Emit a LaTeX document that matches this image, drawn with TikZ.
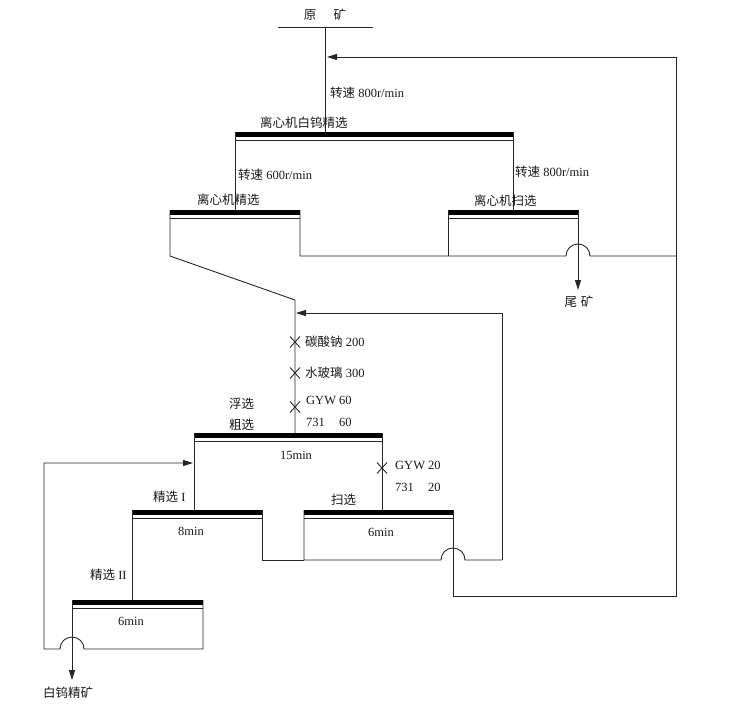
\documentclass[tikz,border=0pt]{standalone}
\usepackage{fontspec}
\setmainfont{Liberation Serif}
\newfontfamily\cjk{Noto Sans CJK SC}
\usetikzlibrary{arrows.meta}
\begin{document}
\begin{tikzpicture}[x=1pt,y=-1pt,
  ln/.style={line width=0.9pt,draw=black!85},
  arr/.style={ln,-{Triangle[length=10pt,width=6pt]}},
  lbl/.style={inner sep=0pt,font=\fontsize{12.5}{14}\selectfont,anchor=west,text=black!90},
  clbl/.style={lbl,anchor=center}]
\useasboundingbox (0,0) rectangle (741,704);
\newcommand{\cellbar}[3]{%
  \fill[black] (#1,#3) rectangle (#2,#3+4.6);
  \draw[ln] (#1,#3+8.6) -- (#2,#3+8.6);}
\newcommand{\xmark}[2]{%
  \draw[ln] (#1-5,#2-5.5) -- (#1+5,#2+5.5) (#1-5,#2+5.5) -- (#1+5,#2-5.5);}
% coordinates
\coordinate (feedL) at (278,27);
\coordinate (feedR) at (373,27);
\coordinate (feedM) at (325,27);
\coordinate (retIn) at (327,57);
\coordinate (flIn) at (296,313);
\coordinate (clIn) at (193,463);
\coordinate (tail) at (578,290);
\coordinate (conc) at (72,680);
% feed
\draw[ln] (feedL) -- (feedR);
\draw[ln] (feedM) -- (325,132);
\node[clbl] (t0) at (325,15) {\cjk 原\hspace{1.4em}矿};
\node[lbl] (t1) at (330,93) {{\cjk 转速} 800r/min};
% centrifuge cleaner (top)
\cellbar{235}{513}{132}
\node[lbl] (t2) at (260,123) {\cjk 离心机白钨精选};
\draw[ln] (235,132) -- (235,210);
\draw[ln] (513,132) -- (513,210);
\node[lbl] (t3) at (238,175) {{\cjk 转速} 600r/min};
\node[lbl] (t4) at (515,172) {{\cjk 转速} 800r/min};
% centrifuge cleaning
\cellbar{170}{300}{210}
\node[lbl] (t5) at (197,200) {\cjk 离心机精选};
\draw[ln] (170,210) -- (170,256) -- (295,300) -- (295,433);
\draw[ln] (300,210) -- (300,256) -- (566,256) arc (180:360:12) -- (676,256);
% centrifuge scavenging
\cellbar{448}{578}{210}
\node[lbl] (t6) at (474,201) {\cjk 离心机扫选};
\draw[ln] (448,210) -- (448,256);
\draw[arr] (578,210) -- (tail);
\node[clbl] (t7) at (579,302) {\cjk 尾\hspace{0.3em}矿};
% return to feed
\draw[arr] (453,510) -- (453,596) -- (676,596) -- (676,57) -- (retIn);
% reagents
\xmark{295}{342}
\xmark{295}{373}
\xmark{295}{407}
\node[lbl] (t8) at (305,342) {{\cjk 碳酸钠} 200};
\node[lbl] (t9) at (305,373) {{\cjk 水玻璃} 300};
\node[lbl] (t10) at (306,400) {\makebox[33pt][l]{GYW}60};
\node[lbl] (t11) at (306,422) {\makebox[33pt][l]{731}60};
\node[lbl] (t12) at (229,404) {\cjk 浮选};
\node[lbl] (t13) at (229,425) {\cjk 粗选};
% flotation return
\draw[arr] (502,560) -- (502,313) -- (flIn);
% rougher
\cellbar{194}{382}{433}
\node[clbl] (t14) at (296,455) {15min};
\draw[ln] (194,433) -- (194,510);
\draw[ln] (382,433) -- (382,510);
\xmark{382}{468}
\node[lbl] (t15) at (395,465) {\makebox[33pt][l]{GYW}20};
\node[lbl] (t16) at (395,487) {\makebox[33pt][l]{731}20};
% cleaner I
\cellbar{132}{262}{510}
\node[lbl] (t17) at (153,497) {{\cjk 精选} I};
\node[clbl] (t18) at (191,531) {8min};
\draw[ln] (132,510) -- (132,600);
\draw[ln] (262,510) -- (262,560) -- (304,560);
% scavenger
\cellbar{304}{453}{510}
\node[lbl] (t19) at (331,500) {\cjk 扫选};
\node[clbl] (t20) at (381,532) {6min};
\draw[ln] (304,510) -- (304,560) -- (441,560) arc (180:360:12) -- (502,560);
% cleaner II
\cellbar{72}{203}{600}
\node[lbl] (t21) at (90,575) {{\cjk 精选} II};
\node[clbl] (t22) at (131,621) {6min};
\draw[arr] (72,600) -- (conc);
\draw[arr] (203,600) -- (203,649) -- (84,649) arc (360:180:12) -- (44,649) -- (44,463) -- (clIn);
\node[lbl] (t23) at (43,693) {\cjk 白钨精矿};
\end{tikzpicture}
\end{document}
